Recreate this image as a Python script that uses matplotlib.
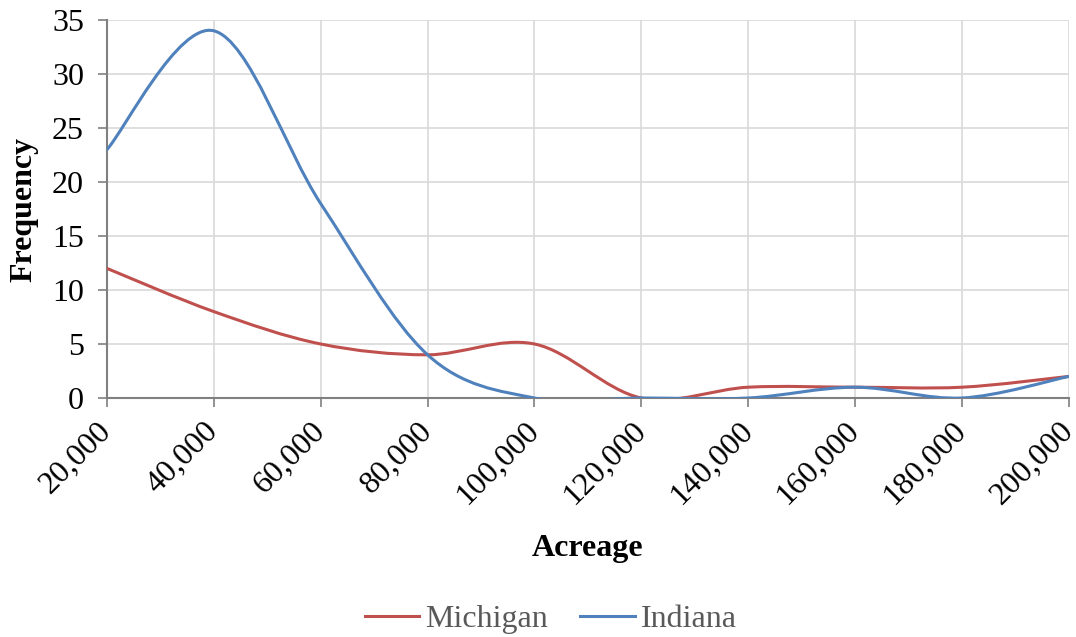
import matplotlib.pyplot as plt
from matplotlib.path import Path
from matplotlib.patches import PathPatch
from matplotlib.lines import Line2D
import numpy as np

acreage = [20000, 40000, 60000, 80000, 100000, 120000, 140000, 160000, 180000, 200000]
michigan = [12, 8, 5, 4, 5, 0, 1, 1, 1, 2]
indiana = [23, 34, 18, 4, 0, 0, 0, 1, 0, 2]

plt.rcParams['font.family'] = ['Liberation Serif', 'DejaVu Serif']


def smooth_path(xs, ys):
    # Bezier segments through every point, tangents from neighbours (Excel style)
    xs = np.asarray(xs, float)
    ys = np.asarray(ys, float)
    n = len(xs)
    verts = [(xs[0], ys[0])]
    codes = [Path.MOVETO]
    for i in range(n - 1):
        p0 = (xs[max(i - 1, 0)], ys[max(i - 1, 0)])
        p1 = (xs[i], ys[i])
        p2 = (xs[i + 1], ys[i + 1])
        p3 = (xs[min(i + 2, n - 1)], ys[min(i + 2, n - 1)])
        c1 = (p1[0] + (p2[0] - p0[0]) / 6, p1[1] + (p2[1] - p0[1]) / 6)
        c2 = (p2[0] - (p3[0] - p1[0]) / 6, p2[1] - (p3[1] - p1[1]) / 6)
        verts += [c1, c2, p2]
        codes += [Path.CURVE4] * 3
    return Path(verts, codes)


fig = plt.figure(figsize=(10.76, 6.37), dpi=100)
ax = fig.add_axes([0.0994, 0.3752, 0.894, 0.5934])

red = '#c0504d'
blue = '#4f81bd'
for vals, col in [(michigan, red), (indiana, blue)]:
    ax.add_patch(PathPatch(smooth_path(acreage, vals), fill=False,
                           edgecolor=col, lw=2.2, capstyle='round', zorder=3))

fs = 23
ax.set_xlim(20000, 200000)
ax.set_ylim(0, 35)
ax.set_xticks(acreage)
ax.set_xticklabels([f"{a:,}" for a in acreage], rotation=45, ha='right',
                   va='center', rotation_mode='anchor')
ax.set_yticks(range(0, 36, 5))
ax.tick_params(labelsize=fs, colors='#808080', labelcolor='black', length=6.5, width=1.2)
ax.tick_params(axis='x', pad=14)
ax.tick_params(axis='y', pad=10)
ax.grid(True, color='#d9d9d9', lw=1.2)
ax.set_axisbelow(True)
for s in ['top', 'right']:
    ax.spines[s].set_visible(False)
for s in ['left', 'bottom']:
    ax.spines[s].set_color('#808080')
    ax.spines[s].set_linewidth(1.5)

ax.set_ylabel('Frequency', fontsize=fs, fontweight='bold', labelpad=10)
ax.set_xlabel('Acreage', fontsize=fs, fontweight='bold', labelpad=17)

handles = [Line2D([], [], color=red, lw=2.2), Line2D([], [], color=blue, lw=2.2)]
fig.legend(handles, ['Michigan', 'Indiana'], loc='center', bbox_to_anchor=(0.512, 0.028),
           ncol=2, frameon=False, fontsize=fs, labelcolor='#595959',
           handlelength=1.7, handletextpad=0.2, columnspacing=1.0)

fig.savefig('out.png', dpi=100)
